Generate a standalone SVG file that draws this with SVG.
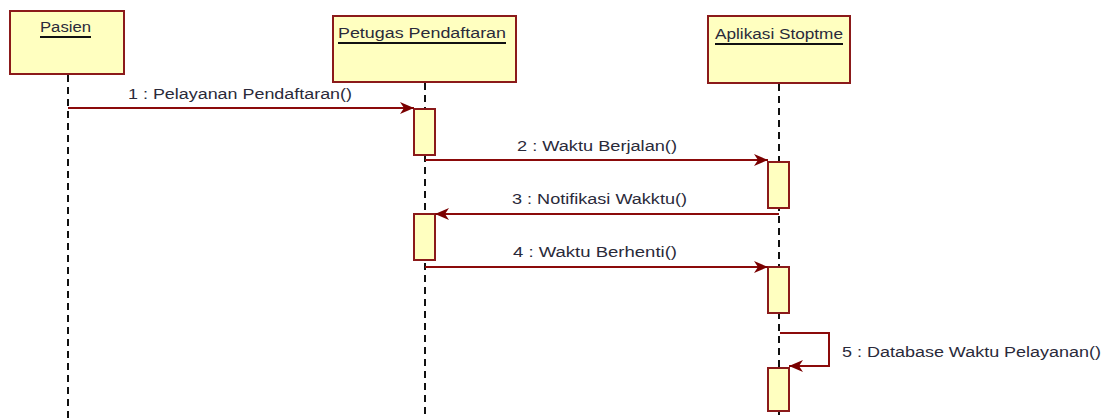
<svg xmlns="http://www.w3.org/2000/svg" width="1112" height="419" viewBox="0 0 1112 419">
<style>
.obj{fill:#FFFFC0;stroke:#8B1A1A;stroke-width:2}
.act{fill:#FFFFC0;stroke:#8B1A1A;stroke-width:2}
.life{stroke:#111;stroke-width:2;stroke-dasharray:7 5;fill:none}
.msg{stroke:#8B0A0A;stroke-width:2;fill:none;marker-end:url(#ah)}
.t{font-family:"Liberation Sans",Arial,sans-serif;font-size:14px;fill:#2a2a3a}
.ul{stroke:#111;stroke-width:2}
</style>
<defs>
<marker id="ah" markerUnits="userSpaceOnUse" markerWidth="16" markerHeight="14" refX="14" refY="7" orient="auto">
<path d="M0,1 L14,7 L0,13 L4,7 Z" fill="#7A0000"/>
</marker>
</defs>
<rect width="1112" height="419" fill="#fff"/>
<g id="lifelines">
<line class="life" x1="68" y1="75" x2="68" y2="419"/>
<line class="life" x1="425" y1="83" x2="425" y2="419"/>
<line class="life" x1="779" y1="84" x2="779" y2="419"/>
</g>
<g id="pasien">
<rect class="obj" x="10" y="11" width="114" height="63"/>
<text class="t" x="40" y="32" textLength="51" lengthAdjust="spacingAndGlyphs">Pasien</text>
<line class="ul" x1="40" y1="37" x2="91" y2="37"/>
</g>
<g id="petugas">
<rect class="obj" x="333" y="16" width="183" height="66"/>
<text class="t" x="338" y="38" textLength="168" lengthAdjust="spacingAndGlyphs">Petugas Pendaftaran</text>
<line class="ul" x1="338" y1="43" x2="506" y2="43"/>
</g>
<g id="aplikasi">
<rect class="obj" x="708" y="16" width="142" height="67"/>
<text class="t" x="715" y="39" textLength="128" lengthAdjust="spacingAndGlyphs">Aplikasi Stoptme</text>
<line class="ul" x1="715" y1="44" x2="843" y2="44"/>
</g>
<g id="activations">
<rect class="act" x="414" y="109" width="21" height="46"/>
<rect class="act" x="768" y="162" width="21" height="46"/>
<rect class="act" x="414" y="214" width="21" height="46"/>
<rect class="act" x="768" y="267" width="21" height="46"/>
<rect class="act" x="768" y="368" width="21" height="43"/>
</g>
<g id="connectors">
<line class="msg" x1="68" y1="108" x2="414" y2="108"/>
<line class="msg" x1="425" y1="160" x2="768" y2="160"/>
<line class="msg" x1="779" y1="214" x2="435" y2="214"/>
<line class="msg" x1="425" y1="267" x2="768" y2="267"/>
<path class="msg" d="M780,333 H829 V366 H789"/>
</g>
<g id="labels">
<text class="t" x="128" y="99" textLength="224" lengthAdjust="spacingAndGlyphs">1 : Pelayanan Pendaftaran()</text>
<text class="t" x="517" y="151" textLength="160" lengthAdjust="spacingAndGlyphs">2 : Waktu Berjalan()</text>
<text class="t" x="512" y="204" textLength="175" lengthAdjust="spacingAndGlyphs">3 : Notifikasi Wakktu()</text>
<text class="t" x="513" y="257" textLength="164" lengthAdjust="spacingAndGlyphs">4 : Waktu Berhenti()</text>
<text class="t" x="842" y="357" textLength="259" lengthAdjust="spacingAndGlyphs">5 : Database Waktu Pelayanan()</text>
</g>
</svg>
